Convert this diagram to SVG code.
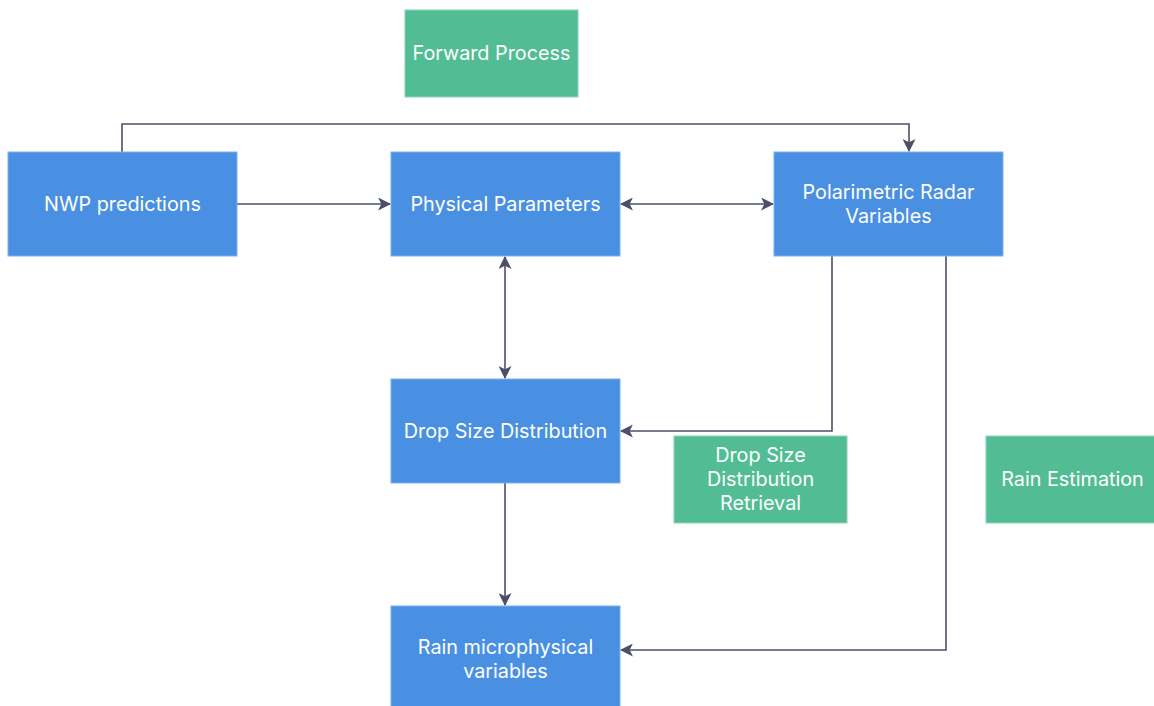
<svg xmlns="http://www.w3.org/2000/svg" width="1154" height="706" viewBox="0 0 1154 706">
<style>
.b{fill:#4A90E2;stroke:#7FB0EC;stroke-width:1}
.g{fill:#52BD94;stroke:#8AD3B6;stroke-width:1}
.t{font-family:Inter,"Liberation Sans",sans-serif;font-size:19.8px;fill:#fff;text-anchor:middle}
.c{fill:none;stroke:#4B5068;stroke-width:1.6}
</style>
<defs>
<marker id="ah" viewBox="0 0 12 12" refX="11" refY="6" markerWidth="13" markerHeight="13" markerUnits="userSpaceOnUse" orient="auto-start-reverse">
<path d="M0,0 L12,6 L0,12 L3,6 Z" fill="#4B5068"/>
</marker>
</defs>
<rect width="1154" height="706" fill="#fff"/>
<g id="connectors">
<path class="c" d="M122,152 V124 H909 V151" marker-end="url(#ah)"/>
<path class="c" d="M237,204 H390" marker-end="url(#ah)"/>
<path class="c" d="M621,204 H773" marker-start="url(#ah)" marker-end="url(#ah)"/>
<path class="c" d="M505,257 V378" marker-start="url(#ah)" marker-end="url(#ah)"/>
<path class="c" d="M832,256 V431 H621" marker-end="url(#ah)"/>
<path class="c" d="M505,483 V605" marker-end="url(#ah)"/>
<path class="c" d="M946,256 V650 H621" marker-end="url(#ah)"/>
</g>
<g id="forward-process"><rect class="g" x="405" y="10" width="173" height="87"/><text class="t" x="491.5" y="60">Forward Process</text></g>
<g id="nwp"><rect class="b" x="8" y="152" width="229" height="104"/><text class="t" x="122.5" y="211">NWP predictions</text></g>
<g id="physical"><rect class="b" x="391" y="152" width="229" height="104"/><text class="t" x="505.5" y="211">Physical Parameters</text></g>
<g id="polarimetric"><rect class="b" x="774" y="152" width="229" height="104"/><text class="t" x="888.5" y="199">Polarimetric Radar</text><text class="t" x="888.5" y="223">Variables</text></g>
<g id="dsd"><rect class="b" x="391" y="379" width="229" height="104"/><text class="t" x="505.5" y="438">Drop Size Distribution</text></g>
<g id="dsd-retrieval"><rect class="g" x="674" y="436" width="173" height="87"/><text class="t" x="760.5" y="462">Drop Size</text><text class="t" x="760.5" y="486">Distribution</text><text class="t" x="760.5" y="510">Retrieval</text></g>
<g id="rain-estimation"><rect class="g" x="986" y="436" width="173" height="87"/><text class="t" x="1072.5" y="486">Rain Estimation</text></g>
<g id="rain-micro"><rect class="b" x="391" y="606" width="229" height="104"/><text class="t" x="505.5" y="654">Rain microphysical</text><text class="t" x="505.5" y="678">variables</text></g>
</svg>
